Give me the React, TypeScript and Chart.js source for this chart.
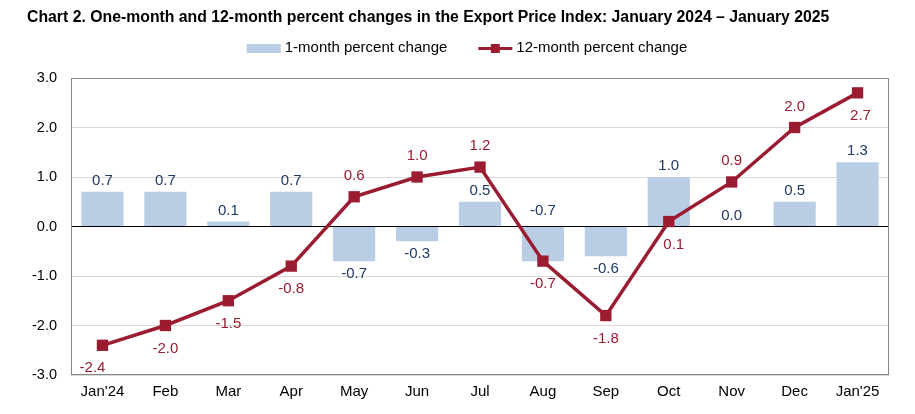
import React, { useEffect, useRef } from "react";
import { Chart, registerables } from "chart.js";

Chart.register(...registerables);

const categories = ["Jan'24", "Feb", "Mar", "Apr", "May", "Jun", "Jul", "Aug", "Sep", "Oct", "Nov", "Dec", "Jan'25"];
const oneMonth = [0.7, 0.7, 0.1, 0.7, -0.7, -0.3, 0.5, -0.7, -0.6, 1.0, 0.0, 0.5, 1.3];
const twelveMonth = [-2.4, -2.0, -1.5, -0.8, 0.6, 1.0, 1.2, -0.7, -1.8, 0.1, 0.9, 2.0, 2.7];
const yMin = -3;
const yMax = 3;
const yStep = 1;
const titleText = "Chart 2. One-month and 12-month percent changes in the Export Price Index: January 2024 \u2013 January 2025";
const seriesNames = ["1-month percent change", "12-month percent change"];

// label placement (style only)
const lineLabelAbove = [false, false, false, false, true, true, true, false, false, false, true, true, false];
const lineLabelDx = [-10, 0, 0, 0, 0, 0, 0, 0, 0, 5, 0, 0, 3];
const barLabelAboveZero = [false, false, false, false, false, false, false, true, false, false, false, false, false];

const FONT = '"Liberation Sans", Arial, Helvetica, sans-serif';
const BAR_COLOR = "#B9CDE5";
const LINE_COLOR = "#9B1B30";
const BAR_LABEL_COLOR = "#1F3864";

const customPlugin = {
  id: "customDraw",
  beforeDatasetsDraw(chart: any) {
    const { ctx, chartArea: a } = chart;
    ctx.save();
    ctx.strokeStyle = "#868686";
    ctx.lineWidth = 1;
    const l = Math.round(a.left) + 0.5;
    const t = Math.round(a.top) + 0.5;
    const r = Math.round(a.right) - 0.5;
    const b = Math.round(a.bottom) - 0.5;
    ctx.strokeRect(l, t, r - l, b - t);
    ctx.restore();
  },
  afterDatasetsDraw(chart: any) {
    const { ctx, scales } = chart;
    const y = scales.y;
    const zero = y.getPixelForValue(0);
    ctx.save();
    ctx.font = `15px ${FONT}`;
    ctx.textAlign = "center";
    ctx.textBaseline = "middle";
    // bar labels
    const barMeta = chart.getDatasetMeta(0);
    barMeta.data.forEach((el: any, i: number) => {
      const v = oneMonth[i];
      let ly: number;
      if (barLabelAboveZero[i]) ly = zero - 16;
      else if (v >= 0) ly = Math.min(el.y, el.base) - 11;
      else ly = Math.max(el.y, el.base) + 13;
      ctx.fillStyle = BAR_LABEL_COLOR;
      ctx.fillText(v.toFixed(1), el.x, ly);
    });
    // line labels
    const lineMeta = chart.getDatasetMeta(1);
    lineMeta.data.forEach((el: any, i: number) => {
      const v = twelveMonth[i];
      const ly = lineLabelAbove[i] ? el.y - 21 : el.y + 23;
      ctx.fillStyle = LINE_COLOR;
      ctx.fillText(v.toFixed(1), el.x + lineLabelDx[i], ly);
    });
    ctx.restore();
  },
  afterDraw(chart: any) {
    const { ctx } = chart;
    ctx.save();
    // title
    ctx.font = `bold 15.8px ${FONT}`;
    ctx.fillStyle = "#000";
    ctx.textAlign = "left";
    ctx.textBaseline = "middle";
    ctx.fillText(titleText, 27, 18);
    // legend
    ctx.font = `15px ${FONT}`;
    const w1 = ctx.measureText(seriesNames[0]).width;
    const w2 = ctx.measureText(seriesNames[1]).width;
    const sw = 34;
    const gap = 4;
    const between = 31;
    const total = sw + gap + w1 + between + sw + gap + w2;
    let x = 467 - total / 2;
    const ly = 48;
    ctx.fillStyle = BAR_COLOR;
    ctx.fillRect(x, ly - 4, sw, 9);
    x += sw + gap;
    ctx.fillStyle = "#000";
    ctx.fillText(seriesNames[0], x, ly);
    x += w1 + between;
    ctx.strokeStyle = LINE_COLOR;
    ctx.lineWidth = 3;
    ctx.beginPath();
    ctx.moveTo(x, ly + 0.5);
    ctx.lineTo(x + sw, ly + 0.5);
    ctx.stroke();
    ctx.fillStyle = LINE_COLOR;
    ctx.fillRect(x + sw / 2 - 4.5, ly - 4, 9, 9);
    x += sw + gap;
    ctx.fillStyle = "#000";
    ctx.fillText(seriesNames[1], x, ly);
    ctx.restore();
  },
};

export default function App() {
  const ref = useRef<HTMLCanvasElement | null>(null);

  useEffect(() => {
    document.body.style.margin = "0";
    if (!ref.current) return;
    const chart = new Chart(ref.current, {
      type: "bar",
      data: {
        labels: categories,
        datasets: [
          {
            type: "bar",
            label: seriesNames[0],
            data: oneMonth,
            backgroundColor: BAR_COLOR,
            borderWidth: 0,
            barPercentage: 0.67,
            categoryPercentage: 1,
            order: 2,
          },
          {
            type: "line",
            label: seriesNames[1],
            data: twelveMonth,
            borderColor: LINE_COLOR,
            backgroundColor: LINE_COLOR,
            borderWidth: 3.5,
            pointStyle: "rect",
            pointRadius: 8,
            pointHoverRadius: 8,
            pointBorderWidth: 0,
            tension: 0,
            order: 1,
          } as any,
        ],
      },
      options: {
        responsive: false,
        animation: false,
        devicePixelRatio: 1,
        layout: { padding: { top: 78, left: 0, right: 26, bottom: 0 } },
        plugins: {
          legend: { display: false },
          title: { display: false },
          tooltip: { enabled: false },
        },
        scales: {
          x: {
            grid: { display: false, drawTicks: false },
            border: { display: false },
            ticks: {
              color: "#000",
              font: { family: FONT, size: 15 },
              padding: 8,
              maxRotation: 0,
              autoSkip: false,
            },
            afterFit: (s: any) => {
              s.height = 39;
            },
          },
          y: {
            min: yMin,
            max: yMax,
            grid: {
              drawTicks: false,
              color: (c: any) => (c.tick && c.tick.value === 0 ? "#000000" : "#D9D9D9"),
              lineWidth: 1,
            },
            border: { display: false },
            ticks: {
              stepSize: yStep,
              color: "#000",
              font: { family: FONT, size: 14.5 },
              padding: 14,
              callback: (v: any) => Number(v).toFixed(1),
            },
            afterFit: (s: any) => {
              s.width = 71;
            },
          },
        },
      },
      plugins: [customPlugin],
    });
    return () => chart.destroy();
  }, []);

  return (
    <div style={{ width: 915, height: 414, background: "#fff" }}>
      <canvas ref={ref} width={915} height={414} style={{ display: "block" }} />
    </div>
  );
}
